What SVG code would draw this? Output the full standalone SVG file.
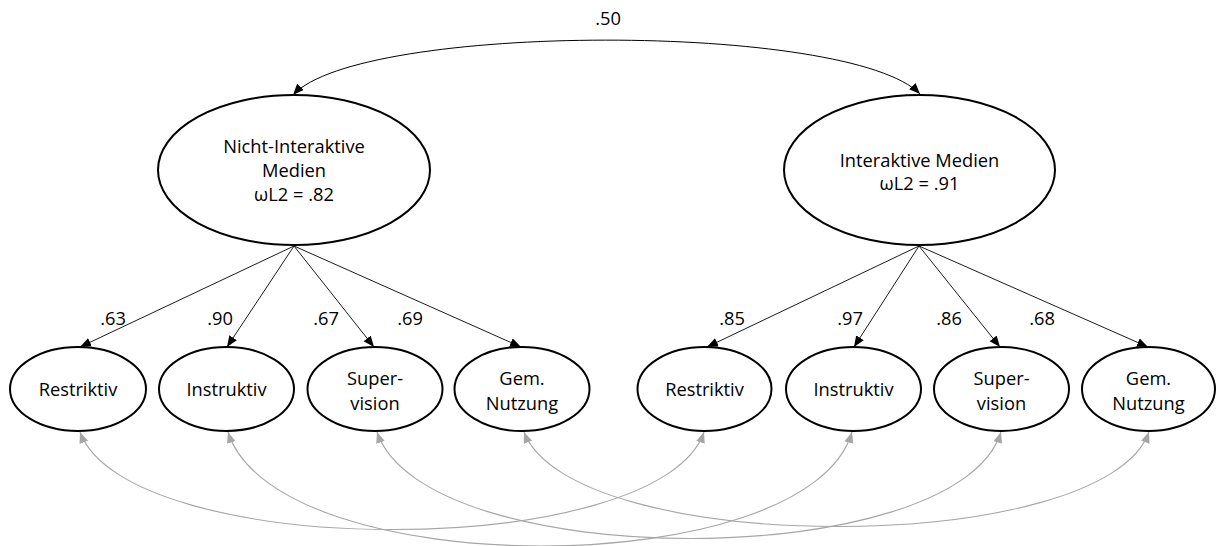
<svg xmlns="http://www.w3.org/2000/svg" width="1216" height="546" viewBox="0 0 1216 546">
<style>
text{font-family:"Open Sans","Liberation Sans",sans-serif;font-size:18.3px;fill:#000;text-anchor:middle}
.lat{fill:#fff;stroke:#000;stroke-width:2}
.ind{fill:#fff;stroke:#000;stroke-width:2}
.load{fill:none;stroke:#000;stroke-width:0.9;marker-end:url(#ab)}
.cov{fill:none;stroke:#000;stroke-width:1;marker-start:url(#ab2);marker-end:url(#ab2)}
.res{fill:none;stroke:#a6a6a6;stroke-width:1.1;marker-start:url(#ag);marker-end:url(#ag)}
</style>
<defs>
<marker id="ab" markerUnits="userSpaceOnUse" markerWidth="12" markerHeight="10" refX="11" refY="4.5" orient="auto"><path d="M0,0 L11,4.5 L0,9 z" fill="#000"/></marker>
<marker id="ab2" markerUnits="userSpaceOnUse" markerWidth="12" markerHeight="10" refX="11" refY="4.5" orient="auto-start-reverse"><path d="M0,0 L11,4.5 L0,9 z" fill="#000"/></marker>
<marker id="ag" markerUnits="userSpaceOnUse" markerWidth="12" markerHeight="10" refX="11" refY="4.5" orient="auto-start-reverse"><path d="M0,0 L11,4.5 L0,9 z" fill="#a6a6a6"/></marker>
</defs>
<g id="connectors">
<path class="cov" d="M293,95 C360,22 850,22 920,94"/>
<path class="load" d="M294,246 L80,347"/>
<path class="load" d="M294,246 L227,347"/>
<path class="load" d="M294,246 L374,347"/>
<path class="load" d="M294,246 L521,347"/>
<path class="load" d="M919,246 L707,347"/>
<path class="load" d="M919,246 L854,347"/>
<path class="load" d="M919,246 L1000,347"/>
<path class="load" d="M919,246 L1148,347"/>
<path class="res" d="M80,432 C128,562 660,562 704,432"/>
<path class="res" d="M228,432 C276,584 808,584 852,432"/>
<path class="res" d="M377,432 C425,574 957,574 1001,432"/>
<path class="res" d="M524,432 C572,558 1104,558 1149,432"/>
</g>
<g id="labels">
<text x="608" y="25">.50</text>
<text x="113" y="325">.63</text>
<text x="220" y="325">.90</text>
<text x="326" y="325">.67</text>
<text x="410" y="325">.69</text>
<text x="732" y="325">.85</text>
<text x="850" y="325">.97</text>
<text x="949" y="325">.86</text>
<text x="1042" y="325">.68</text>
</g>
<g id="nim">
<ellipse class="lat" cx="294" cy="170" rx="136" ry="75"/>
<text x="294" y="153">Nicht-Interaktive</text>
<text x="294" y="177">Medien</text>
<text x="294" y="201">ωL2 = .82</text>
</g>
<g id="im">
<ellipse class="lat" cx="919.5" cy="170" rx="135.5" ry="75"/>
<text x="919.5" y="167">Interaktive Medien</text>
<text x="919.5" y="190">ωL2 = .91</text>
</g>
<g id="l_res">
<ellipse class="ind" cx="78" cy="389" rx="68" ry="42"/>
<text x="78" y="396">Restriktiv</text>
</g>
<g id="l_ins">
<ellipse class="ind" cx="226.5" cy="389" rx="67.5" ry="42"/>
<text x="226.5" y="396">Instruktiv</text>
</g>
<g id="l_sup">
<ellipse class="ind" cx="375" cy="389" rx="67.5" ry="42"/>
<text x="375" y="385">Super-</text>
<text x="375" y="410">vision</text>
</g>
<g id="l_gem">
<ellipse class="ind" cx="522" cy="389" rx="67.5" ry="42"/>
<text x="522" y="385">Gem.</text>
<text x="522" y="410">Nutzung</text>
</g>
<g id="r_res">
<ellipse class="ind" cx="704.5" cy="389" rx="67" ry="42"/>
<text x="704.5" y="396">Restriktiv</text>
</g>
<g id="r_ins">
<ellipse class="ind" cx="853.5" cy="389" rx="67.5" ry="42"/>
<text x="853.5" y="396">Instruktiv</text>
</g>
<g id="r_sup">
<ellipse class="ind" cx="1001.5" cy="389" rx="67.5" ry="42"/>
<text x="1001.5" y="385">Super-</text>
<text x="1001.5" y="410">vision</text>
</g>
<g id="r_gem">
<ellipse class="ind" cx="1148.5" cy="389" rx="66.5" ry="42"/>
<text x="1148.5" y="385">Gem.</text>
<text x="1148.5" y="410">Nutzung</text>
</g>
</svg>
